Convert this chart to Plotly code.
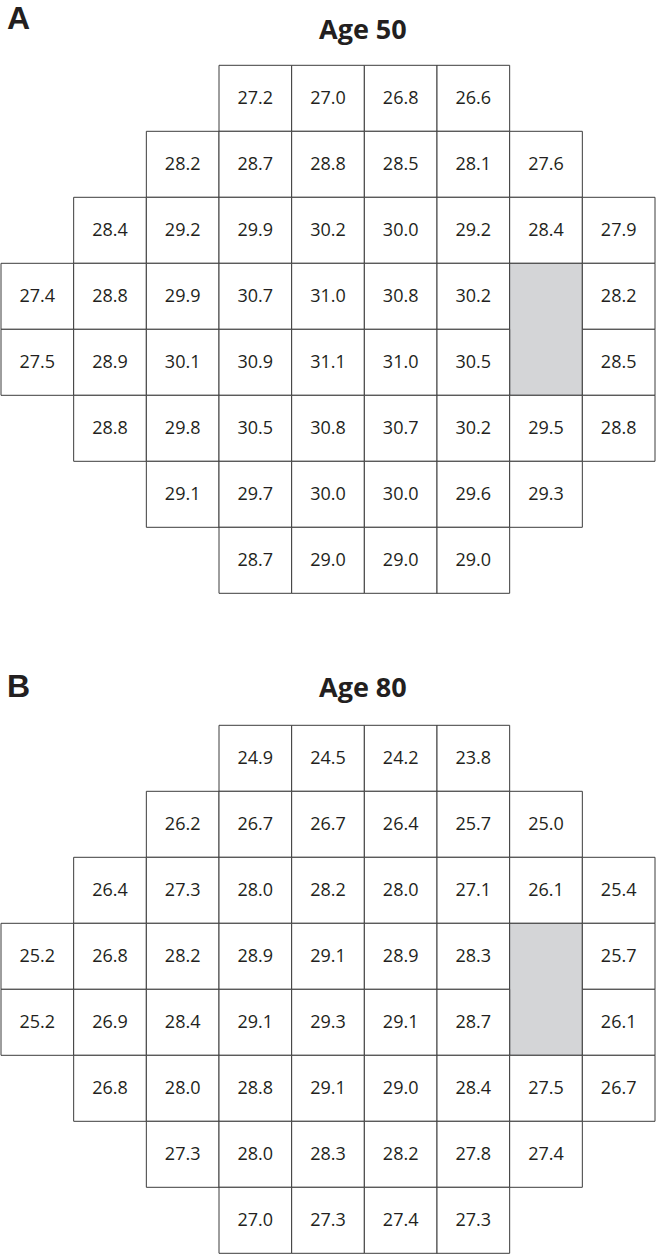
import plotly.graph_objects as go

# Grid layout (24-2 style): first column of each row; None = blind spot
row_start = [3, 2, 1, 0, 0, 1, 2, 3]

age50 = [
    [27.2, 27.0, 26.8, 26.6],
    [28.2, 28.7, 28.8, 28.5, 28.1, 27.6],
    [28.4, 29.2, 29.9, 30.2, 30.0, 29.2, 28.4, 27.9],
    [27.4, 28.8, 29.9, 30.7, 31.0, 30.8, 30.2, None, 28.2],
    [27.5, 28.9, 30.1, 30.9, 31.1, 31.0, 30.5, None, 28.5],
    [28.8, 29.8, 30.5, 30.8, 30.7, 30.2, 29.5, 28.8],
    [29.1, 29.7, 30.0, 30.0, 29.6, 29.3],
    [28.7, 29.0, 29.0, 29.0],
]

age80 = [
    [24.9, 24.5, 24.2, 23.8],
    [26.2, 26.7, 26.7, 26.4, 25.7, 25.0],
    [26.4, 27.3, 28.0, 28.2, 28.0, 27.1, 26.1, 25.4],
    [25.2, 26.8, 28.2, 28.9, 29.1, 28.9, 28.3, None, 25.7],
    [25.2, 26.9, 28.4, 29.1, 29.3, 29.1, 28.7, None, 26.1],
    [26.8, 28.0, 28.8, 29.1, 29.0, 28.4, 27.5, 26.7],
    [27.3, 28.0, 28.3, 28.2, 27.8, 27.4],
    [27.0, 27.3, 27.4, 27.3],
]

panel_letters = ["A", "B"]
panel_titles = ["Age 50", "Age 80"]

W, H = 656, 1255
LINE = "#3c3c3c"
GRAY = "#d4d5d7"
TXT = "#231f20"

fig = go.Figure()

# pixel geometry
col_w = 654 / 9.0
x0 = -1 / col_w
x1 = x0 + W / col_w
row_h = 66.0
grid_tops = [65.3, 725.3]
pad = 0.1

panels = [age50, age80]
shapes = []
annotations = []
for p, data in enumerate(panels):
    ax = "" if p == 0 else str(p + 1)
    top_px = grid_tops[p] - pad * row_h
    bot_px = grid_tops[p] + 8 * row_h + pad * row_h
    bot_px = min(bot_px, H - 0.2)
    ymax = (bot_px - grid_tops[p]) / row_h
    dom = [1 - bot_px / H, 1 - top_px / H]
    fig.update_layout(**{
        f"xaxis{ax}": dict(range=[x0, x1], domain=[0, 1], visible=False, fixedrange=True,
                           anchor=f"y{ax}"),
        f"yaxis{ax}": dict(range=[ymax, -pad], domain=dom, visible=False, fixedrange=True,
                           anchor=f"x{ax}"),
    })
    xr = f"x{ax}"
    yr = f"y{ax}"
    tx, ty, tt = [], [], []
    blind_done = False
    for r, vals in enumerate(data):
        for i, v in enumerate(vals):
            c = row_start[r] + i
            if v is None:
                if not blind_done:
                    n = sum(1 for rr in range(r, len(data))
                            if 0 <= c - row_start[rr] < len(data[rr])
                            and data[rr][c - row_start[rr]] is None)
                    shapes.append(dict(type="rect", xref=xr, yref=yr, x0=c, x1=c + 1,
                                       y0=r, y1=r + n, fillcolor=GRAY,
                                       line=dict(color=LINE, width=1), layer="below"))
                    blind_done = True
                continue
            shapes.append(dict(type="rect", xref=xr, yref=yr, x0=c, x1=c + 1,
                               y0=r, y1=r + 1, fillcolor="white",
                               line=dict(color=LINE, width=1), layer="below"))
            tx.append(c + 0.5)
            ty.append(r + 0.52)
            tt.append(f"{v:.1f}")
    fig.add_trace(go.Scatter(x=tx, y=ty, text=tt, mode="text", xaxis=xr, yaxis=yr,
                             textfont=dict(family="Open Sans", size=18, color=TXT),
                             hoverinfo="skip", showlegend=False))

# titles and panel letters
letter_y = [18, 686]
title_y = [29, 686.5]
for p in range(2):
    annotations.append(dict(text=f"<b>{panel_letters[p]}</b>", xref="paper", yref="paper",
                            x=18.5 / W, y=1 - letter_y[p] / H, xanchor="center",
                            yanchor="middle", showarrow=False,
                            font=dict(family="Liberation Sans", size=32, color=TXT)))
    annotations.append(dict(text=f"<b>{panel_titles[p]}</b>", xref="paper", yref="paper",
                            x=363 / W, y=1 - title_y[p] / H, xanchor="center",
                            yanchor="middle", showarrow=False,
                            font=dict(family="Open Sans", size=27, color=TXT)))

fig.update_layout(width=W, height=H, margin=dict(l=0, r=0, t=0, b=0),
                  paper_bgcolor="white", plot_bgcolor="white",
                  shapes=shapes, annotations=annotations)

fig.write_html("out.html", config={"displayModeBar": False},
               post_script="document.body.style.margin='0';document.body.style.padding='0';"
                           "document.documentElement.style.overflow='hidden';")
